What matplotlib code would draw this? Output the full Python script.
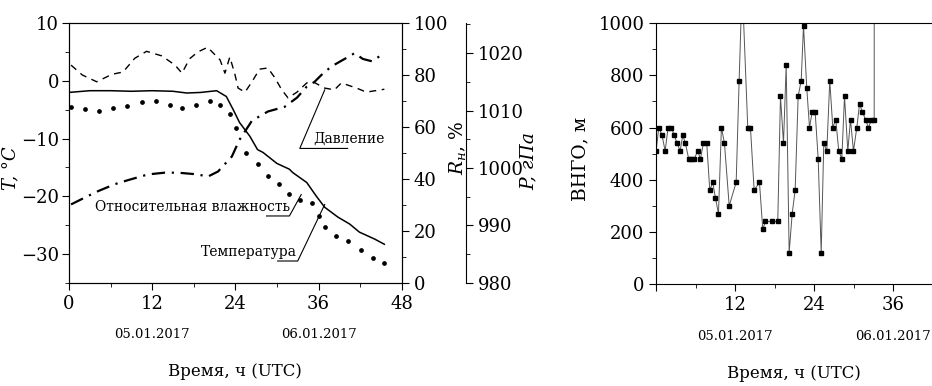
import matplotlib
matplotlib.use('Agg')
import matplotlib.pyplot as plt
from matplotlib.ticker import MultipleLocator

plt.rcParams['font.family'] = ['DejaVu Serif']
plt.rcParams['mathtext.fontset'] = 'dejavuserif'

# --- left panel: meteo data (hours from 00 UTC 05.01.2017) ---
temp_h = [0, 3, 6, 9, 12, 15, 17, 19, 21.3, 22.7, 23.7, 24.6, 26.1, 27.2, 28, 30,
          31.8, 32.3, 34.3, 35.7, 36.9, 38.8, 40.5, 41.9, 44.1, 45.5]
temp_c = [-2.0, -1.7, -1.7, -1.8, -1.7, -1.8, -2.1, -2.0, -1.7, -2.7, -5.0, -7.2, -9.6,
          -11.9, -12.4, -14.3, -15.3, -15.9, -17.6, -20.0, -21.9, -23.6, -24.8, -26.2,
          -27.4, -28.3]

hum_h = [0.3, 2.3, 4.3, 6.3, 8.4, 10.5, 12.5, 14.6, 16.3, 18.3, 20.3, 21.8, 23.3, 24.1,
         25.6, 27.2, 28.7, 30.3, 31.7, 33.4, 35.0, 36.0, 37.0, 38.5, 40.3, 42.2, 43.8, 45.4]
hum_pct = [67.7, 66.9, 66.2, 67.3, 68.1, 69.6, 70.0, 68.5, 67.3, 68.5, 70.0, 68.5, 65.0,
           59.6, 50.0, 45.8, 41.2, 38.1, 34.2, 32.0, 30.8, 25.8, 21.5, 18.1, 16.2, 12.7,
           9.6, 7.7]

pres_h = [0.3, 1.9, 4.0, 6.2, 7.8, 9.5, 11.2, 13.4, 15.3, 16.3, 17.4, 18.6, 20.0, 21.8,
          22.5, 23.2, 23.9, 24.4, 25.4, 26.4, 27.5, 28.7, 29.7, 30.7, 31.6, 32.9, 34.3,
          35.2, 36.9, 38.3, 39.3, 41.5, 42.9, 45.5]
pres_hpa = [1017.9, 1016.2, 1015.0, 1016.3, 1016.7, 1019.1, 1020.3, 1019.5, 1017.9,
            1016.5, 1019.0, 1020.2, 1021.0, 1018.8, 1016.5, 1019.3, 1016.5, 1013.9,
            1013.2, 1015.0, 1017.2, 1017.4, 1015.7, 1013.6, 1012.2, 1013.2, 1014.8,
            1015.0, 1013.9, 1013.6, 1014.8, 1013.9, 1013.2, 1013.7]

dd_h = [0.3, 2.3, 4.2, 6.6, 8.5, 11.4, 13.8, 15.7, 18.6, 20.0, 21.5, 23.5, 24.6, 26.4,
        28.7, 31.1, 32.9, 34.3, 35.4, 36.9, 38.3, 40.2, 41.2, 42.4, 43.7, 45.5]
dd_c = [-21.4, -20.2, -19.1, -17.9, -17.2, -16.2, -15.9, -15.9, -16.2, -16.6, -15.7,
        -13.1, -10.2, -6.9, -5.3, -4.5, -2.9, -1.0, -0.2, 1.6, 2.8, 4.1, 4.8, 3.8, 3.4,
        4.8]

# --- right panel: cloud base height ---
cb_h = [0.0, 0.4, 0.9, 1.37, 1.82, 2.33, 2.74, 3.19, 3.65, 4.04, 4.45, 4.95, 5.36, 5.78,
        6.32, 6.73, 7.19, 7.69, 8.15, 8.6, 9.01, 9.47, 9.92, 10.38, 11.1, 12.16, 12.61,
        13.07, 13.92, 14.33, 14.89, 15.7, 16.2, 16.61, 17.57, 18.48, 18.89, 19.35, 19.76,
        20.21, 20.67, 21.12, 21.58, 22.04, 22.39, 22.89, 23.3, 23.71, 24.16, 24.62,
        25.08, 25.47, 25.93, 26.38, 26.84, 27.29, 27.75, 28.21, 28.62, 29.12, 29.53,
        29.98, 30.49, 30.9, 31.35, 31.81, 32.26, 32.72, 33.13, 33.14]
cb_m = [510, 600, 570, 510, 600, 600, 570, 540, 510, 570, 540, 480, 480, 480, 510, 480,
        540, 540, 360, 390, 330, 270, 600, 540, 300, 390, 780, 1150, 600, 600, 360, 390,
        210, 240, 240, 240, 720, 540, 840, 120, 270, 360, 720, 780, 990, 750, 600, 660,
        660, 480, 120, 540, 510, 780, 600, 630, 510, 480, 720, 510, 630, 510, 600, 690,
        660, 630, 600, 630, 630, 2000]

hour_ticks = [0, 12, 24, 36, 48]
date_labels = ['05.01.2017', '06.01.2017']
date_pos = [12, 36]


def style_ticks(a):
    a.tick_params(which='both', direction='out', labelsize=13)
    a.tick_params(which='major', length=5)
    a.tick_params(which='minor', length=3)


fig = plt.figure(figsize=(9.32, 3.86), dpi=100)

# left panel
ax = fig.add_axes([0.074, 0.267, 0.357, 0.673])
ax.plot(temp_h, temp_c, color='black', lw=1.1)
ax.plot(dd_h, dd_c, color='black', lw=1.6, dashes=(6, 3, 1, 3))
ax.set_xlim(0, 48)
ax.set_ylim(-35, 10)
ax.set_xticks(hour_ticks)
ax.xaxis.set_minor_locator(MultipleLocator(6))
ax.yaxis.set_major_locator(MultipleLocator(10))
ax.yaxis.set_minor_locator(MultipleLocator(5))
style_ticks(ax)
ax.tick_params(axis='y', pad=2)
ax.set_ylabel('T, \u00b0C', style='italic', fontsize=13)
ax.yaxis.set_label_coords(-0.15, 0.44)

ax_r = ax.twinx()
ax_r.plot(hum_h, hum_pct, ls='none', marker='o', ms=2.4, color='black')
ax_r.set_ylim(0, 100)
ax_r.yaxis.set_major_locator(MultipleLocator(20))
ax_r.yaxis.set_minor_locator(MultipleLocator(10))
style_ticks(ax_r)
ax_r.set_ylabel('$R_{\\mathit{н}}$, %', fontsize=13.5)
ax_r.yaxis.set_label_coords(1.135, 0.52)

ax_p = ax.twinx()
ax_p.plot(pres_h, pres_hpa, color='black', lw=1.0, dashes=(5, 4))
ax_p.set_ylim(980, 1025.2)
for s in ['top', 'bottom', 'left']:
    ax_p.spines[s].set_visible(False)
ax_p.spines['right'].set_position(('axes', 1.192))
ax_p.yaxis.set_major_locator(MultipleLocator(10))
ax_p.yaxis.set_minor_locator(MultipleLocator(5))
style_ticks(ax_p)
ax_p.set_ylabel('P, гПа', style='italic', fontsize=13.5)
ax_p.yaxis.set_label_coords(1.355, 0.47)

# leader labels (hours, deg C)
lbl_kw = dict(fontsize=10, ha='left', va='center')
ax.text(3.7, -21.9, 'Относительная влажность', **lbl_kw)
ax.plot([28.5, 31.8, 33.5], [-23.4, -23.4, -19.7], color='black', lw=0.8)
ax.text(19.0, -29.6, 'Температура', **lbl_kw)
ax.plot([30.1, 33.0, 36.9], [-31.2, -31.2, -21.4], color='black', lw=0.8)
ax.text(35.2, -10.0, 'Давление', **lbl_kw)
ax.plot([40.2, 33.3, 36.9], [-11.7, -11.7, -1.55], color='black', lw=0.8)

for x, d in zip(date_pos, date_labels):
    ax.annotate(d, (x, -0.2), xycoords=('data', 'axes fraction'),
                ha='center', va='center', fontsize=9.5)
ax.annotate('Время, ч (UTC)', (24, -0.342), xycoords=('data', 'axes fraction'),
            ha='center', va='center', fontsize=12)

# right panel
ax2 = fig.add_axes([0.704, 0.264, 0.339, 0.676])
ax2.plot(cb_h, cb_m, color='#555555', lw=0.7, marker='s', ms=2.4,
         mfc='black', mec='black')
ax2.set_xlim(0, 48)
ax2.set_ylim(0, 1000)
ax2.set_xticks(hour_ticks)
ax2.set_xticklabels(['', '12', '24', '36', ''])
ax2.xaxis.set_minor_locator(MultipleLocator(6))
ax2.yaxis.set_major_locator(MultipleLocator(200))
ax2.yaxis.set_minor_locator(MultipleLocator(100))
style_ticks(ax2)
ax2.set_ylabel('ВНГО, м', fontsize=13.5)
ax2.yaxis.set_label_coords(-0.21, 0.48)
for x, d in zip(date_pos, date_labels):
    ax2.annotate(d, (x, -0.2), xycoords=('data', 'axes fraction'),
                 ha='center', va='center', fontsize=9.5)
ax2.annotate('Время, ч (UTC)', (21, -0.342), xycoords=('data', 'axes fraction'),
             ha='center', va='center', fontsize=12)

fig.savefig('out.png', dpi=100)
